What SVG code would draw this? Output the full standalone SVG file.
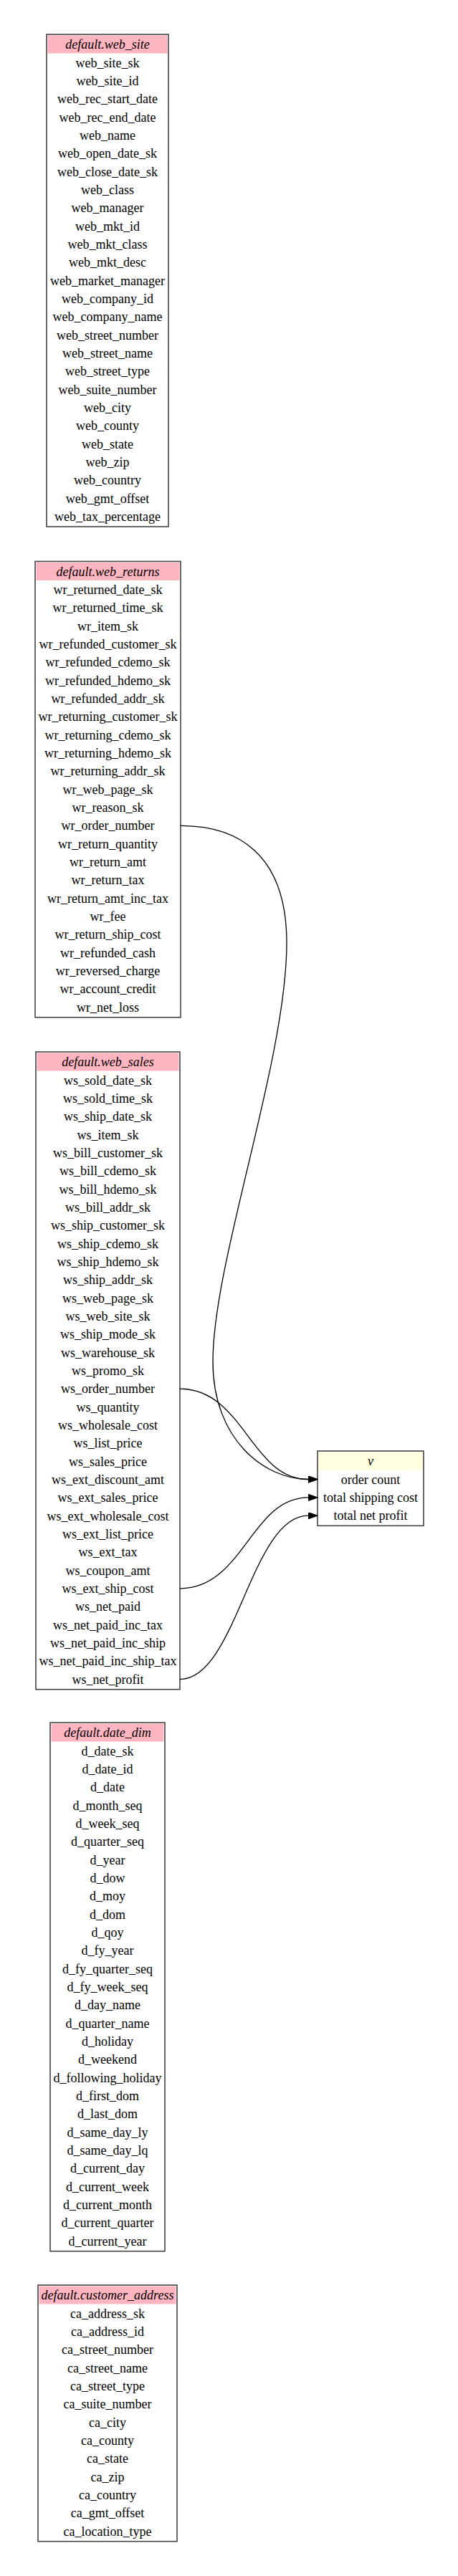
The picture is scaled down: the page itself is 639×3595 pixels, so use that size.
<svg xmlns="http://www.w3.org/2000/svg" width="639" height="3595" viewBox="0 0 639 3595">
<style>
.bg{fill:#ffffff}
.box{fill:#ffffff;stroke:#444444;stroke-width:1.6}
.hd{fill:#ffb6c1}
.hv{fill:#ffffe0}
text{font-family:"Liberation Serif","Times New Roman",serif;font-size:18px;fill:#000;text-anchor:middle}
.ti{font-style:italic}
.edge{fill:none;stroke:#000;stroke-width:1.3}
</style>
<defs>
<marker id="arr" markerWidth="14" markerHeight="10" refX="0" refY="4.67" orient="auto" markerUnits="userSpaceOnUse"><path d="M0,0 L13.3,4.67 L0,9.33 Z" fill="#000" stroke="#000" stroke-width="1"/></marker>
</defs>
<rect class="bg" x="0" y="0" width="639" height="3595"/>

<g id="web_site" transform="translate(65,48)">
<rect class="box" x="0" y="0" width="170" height="687"/>
<rect class="hd" x="1.5" y="1.5" width="167" height="25"/>
<text class="ti" x="85" y="20.2">default.web_site</text>
<text x="85" y="45.5">web_site_sk</text>
<text x="85" y="70.9">web_site_id</text>
<text x="85" y="96.2">web_rec_start_date</text>
<text x="85" y="121.5">web_rec_end_date</text>
<text x="85" y="146.9">web_name</text>
<text x="85" y="172.2">web_open_date_sk</text>
<text x="85" y="197.5">web_close_date_sk</text>
<text x="85" y="222.9">web_class</text>
<text x="85" y="248.2">web_manager</text>
<text x="85" y="273.5">web_mkt_id</text>
<text x="85" y="298.9">web_mkt_class</text>
<text x="85" y="324.2">web_mkt_desc</text>
<text x="85" y="349.5">web_market_manager</text>
<text x="85" y="374.9">web_company_id</text>
<text x="85" y="400.2">web_company_name</text>
<text x="85" y="425.5">web_street_number</text>
<text x="85" y="450.9">web_street_name</text>
<text x="85" y="476.2">web_street_type</text>
<text x="85" y="501.5">web_suite_number</text>
<text x="85" y="526.9">web_city</text>
<text x="85" y="552.2">web_county</text>
<text x="85" y="577.5">web_state</text>
<text x="85" y="602.9">web_zip</text>
<text x="85" y="628.2">web_country</text>
<text x="85" y="653.5">web_gmt_offset</text>
<text x="85" y="678.9">web_tax_percentage</text>
</g>

<g id="web_returns" transform="translate(49,783.5)">
<rect class="box" x="0" y="0" width="203" height="636.3"/>
<rect class="hd" x="1.5" y="1.5" width="200" height="25"/>
<text class="ti" x="101.5" y="20.2">default.web_returns</text>
<text x="101.5" y="45.5">wr_returned_date_sk</text>
<text x="101.5" y="70.9">wr_returned_time_sk</text>
<text x="101.5" y="96.2">wr_item_sk</text>
<text x="101.5" y="121.5">wr_refunded_customer_sk</text>
<text x="101.5" y="146.9">wr_refunded_cdemo_sk</text>
<text x="101.5" y="172.2">wr_refunded_hdemo_sk</text>
<text x="101.5" y="197.5">wr_refunded_addr_sk</text>
<text x="101.5" y="222.9">wr_returning_customer_sk</text>
<text x="101.5" y="248.2">wr_returning_cdemo_sk</text>
<text x="101.5" y="273.5">wr_returning_hdemo_sk</text>
<text x="101.5" y="298.9">wr_returning_addr_sk</text>
<text x="101.5" y="324.2">wr_web_page_sk</text>
<text x="101.5" y="349.5">wr_reason_sk</text>
<text x="101.5" y="374.9">wr_order_number</text>
<text x="101.5" y="400.2">wr_return_quantity</text>
<text x="101.5" y="425.5">wr_return_amt</text>
<text x="101.5" y="450.9">wr_return_tax</text>
<text x="101.5" y="476.2">wr_return_amt_inc_tax</text>
<text x="101.5" y="501.5">wr_fee</text>
<text x="101.5" y="526.9">wr_return_ship_cost</text>
<text x="101.5" y="552.2">wr_refunded_cash</text>
<text x="101.5" y="577.5">wr_reversed_charge</text>
<text x="101.5" y="602.9">wr_account_credit</text>
<text x="101.5" y="628.2">wr_net_loss</text>
</g>

<g id="web_sales" transform="translate(50,1468)">
<rect class="box" x="0" y="0" width="201" height="889.7"/>
<rect class="hd" x="1.5" y="1.5" width="198" height="25"/>
<text class="ti" x="100.5" y="20.2">default.web_sales</text>
<text x="100.5" y="45.5">ws_sold_date_sk</text>
<text x="100.5" y="70.9">ws_sold_time_sk</text>
<text x="100.5" y="96.2">ws_ship_date_sk</text>
<text x="100.5" y="121.5">ws_item_sk</text>
<text x="100.5" y="146.9">ws_bill_customer_sk</text>
<text x="100.5" y="172.2">ws_bill_cdemo_sk</text>
<text x="100.5" y="197.5">ws_bill_hdemo_sk</text>
<text x="100.5" y="222.9">ws_bill_addr_sk</text>
<text x="100.5" y="248.2">ws_ship_customer_sk</text>
<text x="100.5" y="273.5">ws_ship_cdemo_sk</text>
<text x="100.5" y="298.9">ws_ship_hdemo_sk</text>
<text x="100.5" y="324.2">ws_ship_addr_sk</text>
<text x="100.5" y="349.5">ws_web_page_sk</text>
<text x="100.5" y="374.9">ws_web_site_sk</text>
<text x="100.5" y="400.2">ws_ship_mode_sk</text>
<text x="100.5" y="425.5">ws_warehouse_sk</text>
<text x="100.5" y="450.9">ws_promo_sk</text>
<text x="100.5" y="476.2">ws_order_number</text>
<text x="100.5" y="501.5">ws_quantity</text>
<text x="100.5" y="526.9">ws_wholesale_cost</text>
<text x="100.5" y="552.2">ws_list_price</text>
<text x="100.5" y="577.5">ws_sales_price</text>
<text x="100.5" y="602.9">ws_ext_discount_amt</text>
<text x="100.5" y="628.2">ws_ext_sales_price</text>
<text x="100.5" y="653.5">ws_ext_wholesale_cost</text>
<text x="100.5" y="678.9">ws_ext_list_price</text>
<text x="100.5" y="704.2">ws_ext_tax</text>
<text x="100.5" y="729.5">ws_coupon_amt</text>
<text x="100.5" y="754.9">ws_ext_ship_cost</text>
<text x="100.5" y="780.2">ws_net_paid</text>
<text x="100.5" y="805.5">ws_net_paid_inc_tax</text>
<text x="100.5" y="830.9">ws_net_paid_inc_ship</text>
<text x="100.5" y="856.2">ws_net_paid_inc_ship_tax</text>
<text x="100.5" y="881.5">ws_net_profit</text>
</g>

<g id="v" transform="translate(443,2025)">
<rect class="box" x="0" y="0" width="148" height="104.3"/>
<rect class="hv" x="1.5" y="1.5" width="145" height="25"/>
<text class="ti" x="74" y="20.2">v</text>
<text x="74" y="45.5">order count</text>
<text x="74" y="70.9">total shipping cost</text>
<text x="74" y="96.2">total net profit</text>
</g>

<g id="date_dim" transform="translate(70,2404)">
<rect class="box" x="0" y="0" width="160" height="737.7"/>
<rect class="hd" x="1.5" y="1.5" width="157" height="25"/>
<text class="ti" x="80" y="20.2">default.date_dim</text>
<text x="80" y="45.5">d_date_sk</text>
<text x="80" y="70.9">d_date_id</text>
<text x="80" y="96.2">d_date</text>
<text x="80" y="121.5">d_month_seq</text>
<text x="80" y="146.9">d_week_seq</text>
<text x="80" y="172.2">d_quarter_seq</text>
<text x="80" y="197.5">d_year</text>
<text x="80" y="222.9">d_dow</text>
<text x="80" y="248.2">d_moy</text>
<text x="80" y="273.5">d_dom</text>
<text x="80" y="298.9">d_qoy</text>
<text x="80" y="324.2">d_fy_year</text>
<text x="80" y="349.5">d_fy_quarter_seq</text>
<text x="80" y="374.9">d_fy_week_seq</text>
<text x="80" y="400.2">d_day_name</text>
<text x="80" y="425.5">d_quarter_name</text>
<text x="80" y="450.9">d_holiday</text>
<text x="80" y="476.2">d_weekend</text>
<text x="80" y="501.5">d_following_holiday</text>
<text x="80" y="526.9">d_first_dom</text>
<text x="80" y="552.2">d_last_dom</text>
<text x="80" y="577.5">d_same_day_ly</text>
<text x="80" y="602.9">d_same_day_lq</text>
<text x="80" y="628.2">d_current_day</text>
<text x="80" y="653.5">d_current_week</text>
<text x="80" y="678.9">d_current_month</text>
<text x="80" y="704.2">d_current_quarter</text>
<text x="80" y="729.5">d_current_year</text>
</g>

<g id="customer_address" transform="translate(53,3189)">
<rect class="box" x="0" y="0" width="194" height="357.7"/>
<rect class="hd" x="1.5" y="1.5" width="191" height="25"/>
<text class="ti" x="97" y="20.2">default.customer_address</text>
<text x="97" y="45.5">ca_address_sk</text>
<text x="97" y="70.9">ca_address_id</text>
<text x="97" y="96.2">ca_street_number</text>
<text x="97" y="121.5">ca_street_name</text>
<text x="97" y="146.9">ca_street_type</text>
<text x="97" y="172.2">ca_suite_number</text>
<text x="97" y="197.5">ca_city</text>
<text x="97" y="222.9">ca_county</text>
<text x="97" y="248.2">ca_state</text>
<text x="97" y="273.5">ca_zip</text>
<text x="97" y="298.9">ca_country</text>
<text x="97" y="324.2">ca_gmt_offset</text>
<text x="97" y="349.5">ca_location_type</text>
</g>

<g id="connectors">
<path class="edge" marker-end="url(#arr)" d="M252,1152.4 C330,1152.4 400,1190 400,1316 C400,1480 297,1760 297,1900 C297,2010 370,2064.5 430,2064.5"/>
<path class="edge" marker-end="url(#arr)" d="M251,1938.2 C340,1938.2 350,2064.5 430,2064.5"/>
<path class="edge" marker-end="url(#arr)" d="M251,2216.9 C340,2216.9 350,2089.9 430,2089.9"/>
<path class="edge" marker-end="url(#arr)" d="M251,2343.5 C330,2343.5 350,2115.2 430,2115.2"/>
</g>
</svg>
